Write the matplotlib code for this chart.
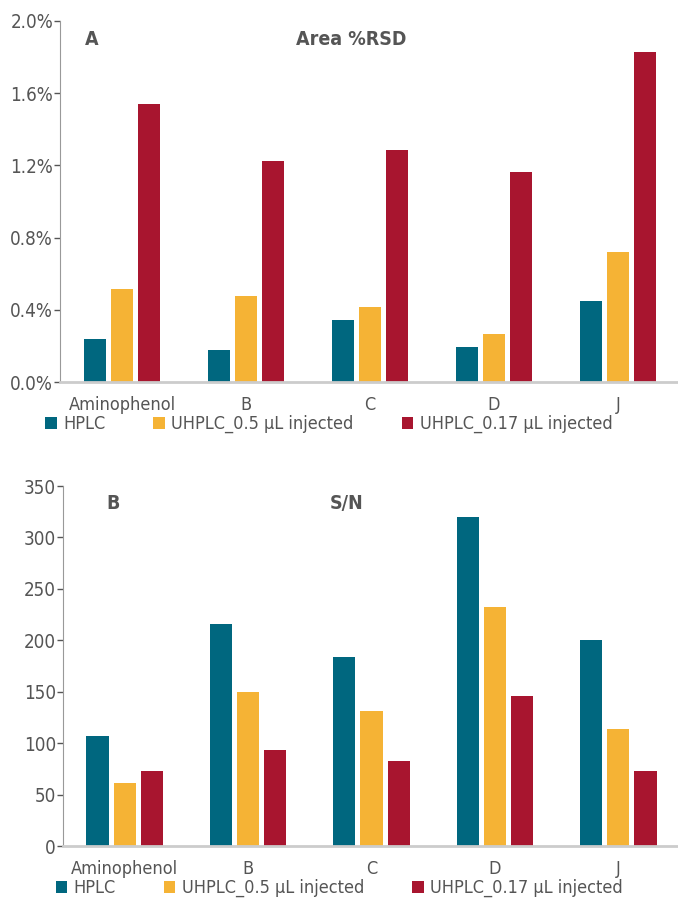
import numpy as np
import matplotlib
matplotlib.use("Agg")
import matplotlib.pyplot as plt
from matplotlib.ticker import FuncFormatter

plt.rcParams['font.family'] = ['DejaVu Sans']
plt.rcParams['font.stretch'] = 'condensed'

# Datos
compuestos = ["Aminophenol", "B", "C", "D", "J"]
series = ["HPLC", "UHPLC_0.5 µL injected", "UHPLC_0.17 µL injected"]
colores = ["#00677F", "#F5B335", "#A8152F"]

rsd_hplc = [0.24, 0.18, 0.345, 0.196, 0.45]
rsd_uhplc_05 = [0.517, 0.478, 0.417, 0.268, 0.721]
rsd_uhplc_017 = [1.54, 1.225, 1.286, 1.164, 1.828]

sn_hplc = [107, 216, 184, 320, 200]
sn_uhplc_05 = [61, 150, 131, 232, 114]
sn_uhplc_017 = [73, 93, 83, 146, 73]

gris = "#555555"


def panel(ax, valores, letra, titulo, ymax, paso, fmt, letra_x, titulo_x, leg_x):
    x = np.arange(len(compuestos))
    ancho = 0.18
    desp = 0.22
    for i, (vals, col, nom) in enumerate(zip(valores, colores, series)):
        ax.bar(x + (i - 1) * desp, vals, width=ancho, color=col, label=nom)
    ax.set_xlim(-0.5, len(compuestos) - 0.5)
    ax.set_ylim(0, ymax)
    ax.set_yticks(np.arange(0, ymax + paso / 2, paso))
    ax.yaxis.set_major_formatter(FuncFormatter(fmt))
    ax.set_xticks(x)
    ax.set_xticklabels(compuestos)
    ax.tick_params(axis='y', colors=gris, labelsize=13.5, length=4, width=1, direction='out', pad=1)
    ax.tick_params(axis='x', colors=gris, labelsize=13, length=0, pad=10)
    for s in ["top", "right"]:
        ax.spines[s].set_visible(False)
    ax.spines["left"].set_color("#999999")
    ax.spines["bottom"].set_color("#cccccc")
    ax.spines["bottom"].set_linewidth(2)
    ax.text(letra_x, 0.95, letra, transform=ax.transAxes, fontsize=14,
            fontweight='bold', color=gris, va='center')
    ax.text(titulo_x, 0.95, titulo, transform=ax.transAxes, fontsize=14,
            fontweight='bold', color=gris, va='center', ha='center')
    ax.legend(loc='upper left', bbox_to_anchor=(leg_x, -0.092), ncol=3,
              frameon=False, fontsize=13, labelcolor=gris, handlelength=0.65,
              handleheight=0.65, handletextpad=0.35, columnspacing=2.65,
              borderaxespad=0, borderpad=0)


fig = plt.figure(figsize=(6.78, 9), dpi=100)
ax1 = fig.add_axes([60 / 678, 1 - 382 / 900, 620 / 678, 361 / 900])
ax2 = fig.add_axes([63 / 678, 1 - 846 / 900, 617 / 678, 360 / 900])

panel(ax1, [rsd_hplc, rsd_uhplc_05, rsd_uhplc_017], "A", "Area %RSD",
      2.0, 0.4, lambda v, p: f"{v:.1f}%", 0.04, 0.47, -0.024)
panel(ax2, [sn_hplc, sn_uhplc_05, sn_uhplc_017], "B", "S/N",
      350, 50, lambda v, p: f"{int(v)}", 0.071, 0.46, -0.012)

fig.savefig("out.png", dpi=100)
